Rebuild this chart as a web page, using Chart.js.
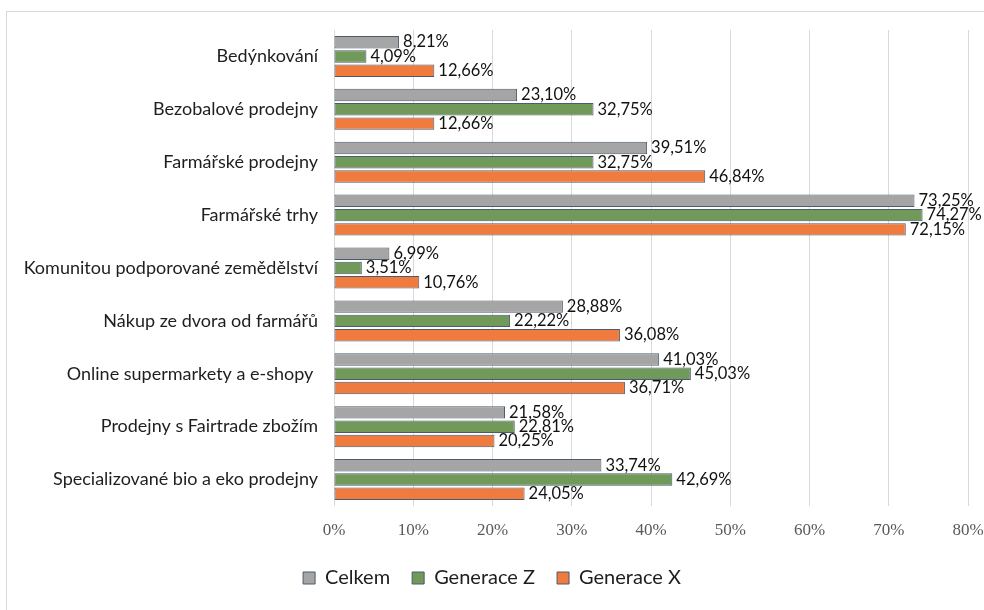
<!DOCTYPE html>
<html>
<head>
<meta charset="utf-8">
<script src="https://cdn.jsdelivr.net/npm/chart.js@4.4.1/dist/chart.umd.min.js"></script>
<style>
  html, body { margin: 0; padding: 0; background: #fff; }
  #wrap { position: relative; width: 984px; height: 610px; }
  #frame { position: absolute; left: 6px; top: 11px; right: 0; bottom: 0;
           border-left: 1px solid #d9d9d9; border-top: 1px solid #d9d9d9; }
  canvas { position: absolute; left: 0; top: 0; }
</style>
</head>
<body>
<div id="wrap">
  <div id="frame"></div>
  <canvas id="chart" width="984" height="610"></canvas>
</div>
<script>
const categories = [
  "Bedýnkování",
  "Bezobalové prodejny",
  "Farmářské prodejny",
  "Farmářské trhy",
  "Komunitou podporované zemědělství",
  "Nákup ze dvora od farmářů",
  "Online supermarkety a e-shopy ",
  "Prodejny s Fairtrade zbožím",
  "Specializované bio a eko prodejny"
];
const celkem = [8.21, 23.10, 39.51, 73.25, 6.99, 28.88, 41.03, 21.58, 33.74];
const generaceZ = [4.09, 32.75, 32.75, 74.27, 3.51, 22.22, 45.03, 22.81, 42.69];
const generaceX = [12.66, 12.66, 46.84, 72.15, 10.76, 36.08, 36.71, 20.25, 24.05];
const xTicks = [0, 10, 20, 30, 40, 50, 60, 70, 80];

const GREY = "#a5a5a5", GREEN = "#70995a", ORANGE = "#ef7b3f", EDGE = "#4b5a6e";
const SANS = "Lato, 'Open Sans', sans-serif";
const SERIF = "'Liberation Serif', 'DejaVu Serif', serif";

const fmt = v => v.toFixed(2).replace(".", ",") + "%";

// value labels at the end of each bar
const barLabels = {
  id: "barLabels",
  afterDatasetsDraw(chart) {
    const ctx = chart.ctx;
    ctx.save();
    ctx.font = "16.5px " + SANS;
    ctx.fillStyle = "#111";
    ctx.textBaseline = "middle";
    ctx.textAlign = "left";
    chart.data.datasets.forEach((ds, i) => {
      chart.getDatasetMeta(i).data.forEach((bar, j) => {
        ctx.fillText(fmt(ds.data[j]), bar.x + 4, bar.y);
      });
    });
    ctx.restore();
  }
};

const ds = (label, data, color) => ({
  label, data,
  backgroundColor: color,
  borderColor: EDGE,
  borderWidth: 1,
  borderSkipped: false,
  categoryPercentage: 0.81,
  barPercentage: 0.87
});

new Chart(document.getElementById("chart"), {
  type: "bar",
  data: {
    labels: categories,
    datasets: [
      ds("Celkem", celkem, GREY),
      ds("Generace Z", generaceZ, GREEN),
      ds("Generace X", generaceX, ORANGE)
    ]
  },
  options: {
    indexAxis: "y",
    responsive: false,
    animation: false,
    layout: { padding: { top: 30, right: 0, left: 0, bottom: 12 } },
    scales: {
      y: {
        grid: { display: false, drawTicks: false },
        border: { display: false },
        ticks: { color: "#1e1e1e", font: { family: SANS, size: 18 }, padding: 16 },
        afterFit: s => { s.width = 334; }
      },
      x: {
        min: 0, max: 80,
        afterBuildTicks: s => { s.ticks = xTicks.map(v => ({ value: v })); },
        grid: { color: "#d9d9d9", drawTicks: false },
        border: { display: false },
        ticks: { color: "#595959", font: { family: SERIF, size: 17 }, padding: 14,
                 maxRotation: 0, autoSkip: false, callback: v => v + "%" },
        afterFit: s => { s.height = 40; s.paddingLeft = 0; s.paddingRight = 16; }
      }
    },
    plugins: {
      legend: {
        position: "bottom",
        labels: { boxWidth: 12, boxHeight: 12, padding: 22, color: "#1e1e1e",
                  font: { family: SANS, size: 20 } }
      },
      tooltip: { enabled: false }
    }
  },
  plugins: [barLabels]
});
</script>
</body>
</html>
